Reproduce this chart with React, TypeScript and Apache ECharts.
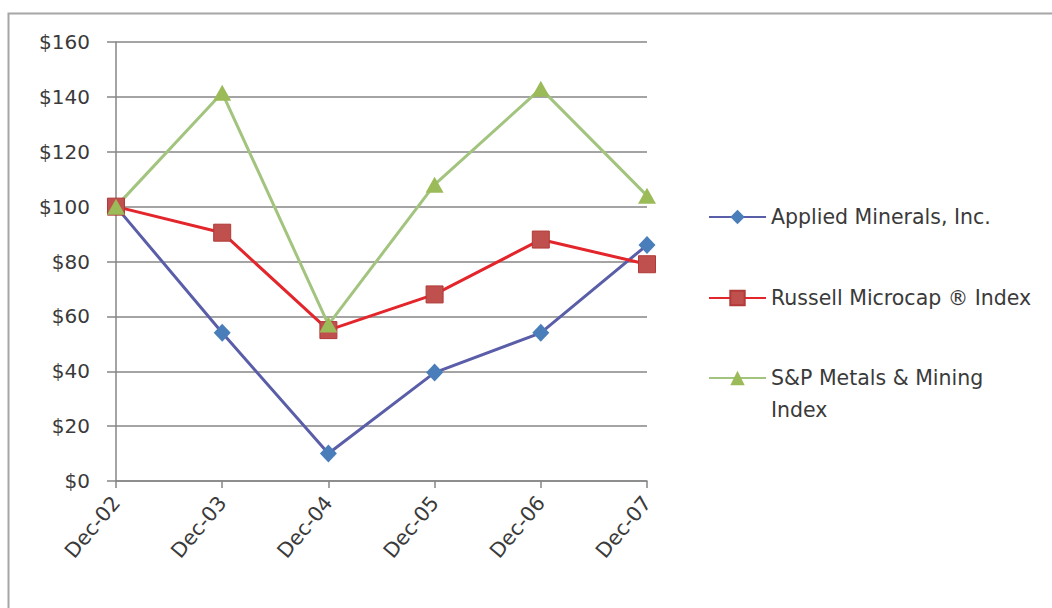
import React, { useEffect, useRef } from "react";
import * as echarts from "echarts";

const categories = ["Dec-02", "Dec-03", "Dec-04", "Dec-05", "Dec-06", "Dec-07"];
const appliedMinerals = [100, 54, 10, 39.5, 54, 86];
const russellMicrocap = [100, 90.5, 55, 68, 88, 79];
const spMetalsMining = [100, 141.5, 57, 108, 143, 104];
const seriesNames = ["Applied Minerals, Inc.", "Russell Microcap \u00AE Index", "S&P Metals & Mining Index"];

const FONT = "DejaVu Sans";
const TEXT = "#3a3a3a";
const GRID = "#868686";

export default function App() {
  const ref = useRef<HTMLDivElement>(null);
  useEffect(() => {
    if (!ref.current) return;
    const chart = echarts.init(ref.current, undefined, { renderer: "svg" });
    const legendBase = {
      left: 708,
      orient: "vertical",
      padding: 0,
      itemWidth: 57,
      itemHeight: 18,
      itemGap: 0,
      textStyle: { fontFamily: FONT, fontSize: 20.5, color: TEXT, lineHeight: 24 },
      selectedMode: false,
    };
    chart.setOption({
      animation: false,
      backgroundColor: "#ffffff",
      grid: { left: 116, right: 405, top: 42, bottom: 127, containLabel: false },
      graphic: [
        {
          type: "rect",
          shape: { x: 8.5, y: 13.5, width: 1200, height: 800 },
          style: { fill: "none", stroke: "#a6a6a6", lineWidth: 2 },
          silent: true,
        },
      ],
      legend: [
        { ...legendBase, top: 205, data: [seriesNames[0]] },
        { ...legendBase, top: 286, data: [seriesNames[1]] },
        {
          ...legendBase,
          top: 330,
          data: [seriesNames[2]],
          formatter: () => "\nS&P Metals & Mining\nIndex",
          textStyle: { ...legendBase.textStyle, lineHeight: 32 },
        },
      ],
      xAxis: {
        type: "category",
        data: categories,
        boundaryGap: false,
        axisLine: { lineStyle: { color: GRID, width: 1.5 } },
        axisTick: { show: true, length: 7, lineStyle: { color: GRID, width: 1.5 } },
        axisLabel: {
          rotate: 50,
          margin: 18,
          fontFamily: FONT,
          fontSize: 20.5,
          color: TEXT,
        },
        splitLine: { show: false },
      },
      yAxis: {
        type: "value",
        min: 0,
        max: 160,
        interval: 20,
        axisLine: { show: true, lineStyle: { color: GRID, width: 1.5 } },
        axisTick: { show: true, length: 9, lineStyle: { color: GRID, width: 1.5 } },
        axisLabel: {
          formatter: (v: number) => "$" + v,
          margin: 26,
          fontFamily: FONT,
          fontSize: 20,
          color: TEXT,
        },
        splitLine: { show: true, lineStyle: { color: GRID, width: 1.5 } },
      },
      series: [
        {
          name: seriesNames[0],
          type: "line",
          data: appliedMinerals,
          symbol: "diamond",
          symbolSize: [17, 18],
          showAllSymbol: true,
          lineStyle: { color: "#5a5ea8", width: 3 },
          itemStyle: { color: "#4a7ebb", borderColor: "#4a7ebb", borderWidth: 0 },
        },
        {
          name: seriesNames[1],
          type: "line",
          data: russellMicrocap,
          symbol: "rect",
          symbolSize: 17,
          showAllSymbol: true,
          lineStyle: { color: "#e3262b", width: 3 },
          itemStyle: { color: "#c0504d", borderColor: "#b03a37", borderWidth: 1 },
        },
        {
          name: seriesNames[2],
          type: "line",
          data: spMetalsMining,
          symbol: "triangle",
          symbolSize: [18, 16],
          showAllSymbol: true,
          lineStyle: { color: "#a3c47e", width: 3 },
          itemStyle: { color: "#9bbb59", borderColor: "#9bbb59", borderWidth: 0 },
        },
      ],
    });
    return () => chart.dispose();
  }, []);
  return (
    <div
      ref={ref}
      style={{ position: "fixed", left: 0, top: 0, width: 1052, height: 608, background: "#fff" }}
    />
  );
}
